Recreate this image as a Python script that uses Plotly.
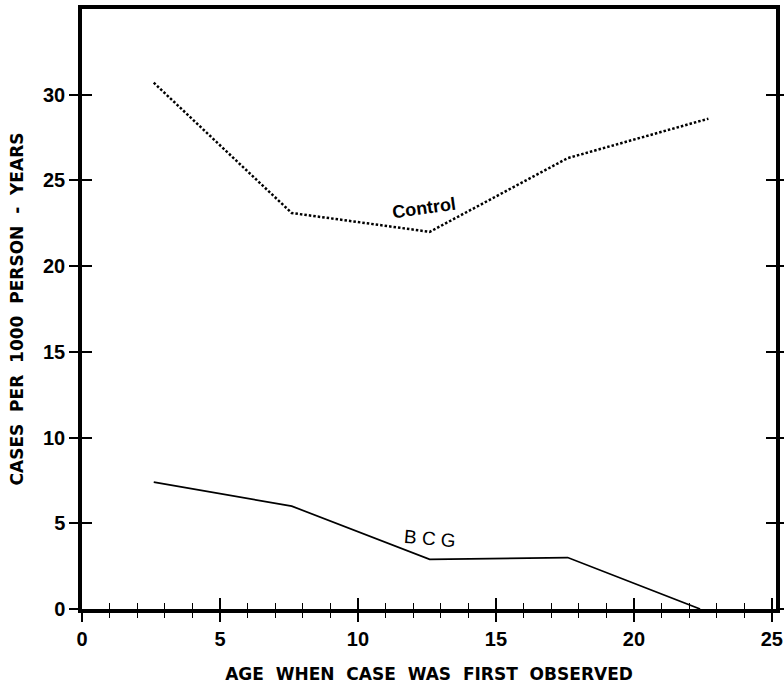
import plotly.graph_objects as go

# Data
age_control = [2.6, 7.6, 12.6, 17.6, 22.7]
rate_control = [30.7, 23.1, 22.0, 26.3, 28.6]
age_bcg = [2.6, 7.6, 12.6, 17.6, 22.4]
rate_bcg = [7.4, 6.0, 2.9, 3.0, 0.0]
x_ticks = [0, 5, 10, 15, 20, 25]
y_ticks = [0, 5, 10, 15, 20, 25, 30]

X_RANGE = [0, 25.15]
Y_RANGE = [0, 35]

fig = go.Figure()
fig.add_trace(go.Scatter(x=age_control, y=rate_control, mode="lines",
                         line=dict(color="black", width=2.5, dash="2.5px,2px"),
                         name="Control", showlegend=False))
fig.add_trace(go.Scatter(x=age_bcg, y=rate_bcg, mode="lines",
                         line=dict(color="black", width=1.7),
                         name="BCG", showlegend=False))
# empty trace to activate the overlay axes (inside tick halves)
fig.add_trace(go.Scatter(x=[], y=[], xaxis="x2", yaxis="y2", showlegend=False))

tick_font = dict(family="Liberation Sans", size=20, color="black", weight="bold")
title_font = dict(family="DejaVu Sans", size=17, color="black", weight="bold")

fig.update_layout(
    width=784, height=685,
    margin=dict(l=82, r=8, t=9, b=76, autoexpand=False),
    paper_bgcolor="white", plot_bgcolor="white",
    xaxis=dict(range=X_RANGE, tickvals=x_ticks, ticktext=[str(v) for v in x_ticks],
               ticks="outside", ticklen=9, tickwidth=1.6, tickcolor="black",
               minor=dict(dtick=1, tick0=0, ticks="outside", ticklen=5,
                          tickwidth=1.3, tickcolor="black"),
               showline=True, linewidth=3.5, linecolor="black", mirror=True,
               showgrid=False, zeroline=False, tickfont=tick_font, automargin=False,
               title=dict(text="AGE  WHEN  CASE  WAS  FIRST  OBSERVED",
                          font=title_font, standoff=20)),
    yaxis=dict(range=Y_RANGE, tickvals=y_ticks, ticktext=[str(v) for v in y_ticks],
               ticks="outside", ticklen=9, tickwidth=1.6, tickcolor="black",
               showline=True, linewidth=3.5, linecolor="black", mirror="ticks",
               showgrid=False, zeroline=False, tickfont=tick_font, automargin=False,
               title=dict(text="CASES  PER  1000  PERSON  -  YEARS",
                          font=title_font, standoff=16)),
    xaxis2=dict(range=X_RANGE, overlaying="x", anchor="y", side="bottom",
                tickvals=x_ticks, ticks="inside", ticklen=11, tickwidth=1.6,
                tickcolor="black", showticklabels=False, automargin=False,
                minor=dict(dtick=1, tick0=0, ticks="inside", ticklen=6,
                           tickwidth=1.3, tickcolor="black"),
                showline=False, showgrid=False, zeroline=False),
    yaxis2=dict(range=Y_RANGE, overlaying="y", anchor="x", side="left",
                tickvals=y_ticks, ticks="inside", ticklen=10, tickwidth=1.6,
                tickcolor="black", showticklabels=False, mirror="ticks",
                automargin=False,
                showline=False, showgrid=False, zeroline=False),
    annotations=[
        dict(x=12.4, y=23.4, xref="x", yref="y", text="Control", showarrow=False,
             textangle=-8, font=dict(family="Liberation Sans", size=18,
                                      color="black", weight="bold")),
        dict(x=12.6, y=4.1, xref="x", yref="y", text="B C G", showarrow=False,
             textangle=5, font=dict(family="Liberation Sans", size=19,
                                     color="black")),
    ],
)

fig.write_html("out.html",
               config={"displayModeBar": False},
               post_script="document.body.style.margin='0px';"
                           "document.body.style.overflow='hidden';")
